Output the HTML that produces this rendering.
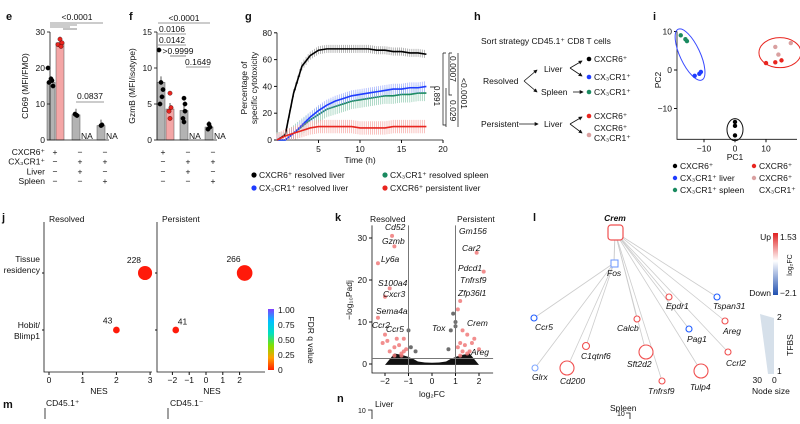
<!DOCTYPE html>
<html><head><meta charset="utf-8"><style>
body{margin:0;background:#fff}
svg{font-family:"Liberation Sans",Arial,sans-serif;font-size:8.5px;fill:#111}
.b{font-weight:bold;font-size:11px}
.i{font-style:italic}
</style></head><body>
<svg id="s" width="800" height="419" viewBox="0 0 800 419" xmlns="http://www.w3.org/2000/svg">
<defs><marker id="ah" viewBox="0 0 6 6" refX="5" refY="3" markerWidth="5" markerHeight="5" orient="auto"><path d="M0 0L6 3L0 6Z" fill="#111"/></marker></defs>
<g>
<text class="b" x="6" y="20">e</text><text class="b" x="129" y="20">f</text><text class="b" x="245" y="20">g</text>
<text class="b" x="474" y="20">h</text><text class="b" x="653" y="20">i</text>
<text class="b" x="2" y="221">j</text><text class="b" x="335" y="221">k</text><text class="b" x="533" y="221">l</text>
<text class="b" x="3" y="408">m</text><text class="b" x="337" y="402">n</text>
</g>
<g id="e"></g>
<g id="f"></g>
<g id="g"></g>
<g id="h">
<text x="481" y="44">Sort strategy CD45.1⁺ CD8 T cells</text>
<text x="483" y="84">Resolved</text><text x="544" y="72">Liver</text><text x="541" y="95">Spleen</text>
<text x="481" y="127">Persistent</text><text x="544" y="127">Liver</text>
<g stroke="#111" fill="none" stroke-width="0.8" marker-end="url(#ah)">
<path d="M524 81 L537 70"/><path d="M524 81 L537 92"/><path d="M570 68 L582 61"/><path d="M570 68 L582 76"/><path d="M573 92 L583 92"/><path d="M519 124 L538 124"/><path d="M570 124 L582 117"/><path d="M570 124 L582 133"/>
</g>
<circle cx="589" cy="59" r="2.3" fill="#000"/><text x="594" y="62">CXCR6⁺</text>
<circle cx="589" cy="77" r="2.3" fill="#1f3cff"/><text x="594" y="80">CX₃CR1⁺</text>
<circle cx="589" cy="92" r="2.3" fill="#1a8a60"/><text x="594" y="95">CX₃CR1⁺</text>
<circle cx="589" cy="116" r="2.3" fill="#e8251f"/><text x="594" y="119">CXCR6⁺</text>
<circle cx="589" cy="135" r="2.3" fill="#d9a0a0"/><text x="594" y="131">CXCR6⁺</text><text x="594" y="141">CX₃CR1⁺</text>
</g>
<g id="i"></g>
<g id="j"></g>
<g id="k"></g>
<g id="l"></g>
<g>
<text x="46" y="406">CD45.1⁺</text><text x="170" y="406">CD45.1⁻</text>
<text x="375" y="407">Liver</text><text x="610" y="411">Spleen</text>
<text x="358" y="413" font-size="7">10</text><text x="617" y="416" font-size="7">10</text>
<path d="M45 408V419M168 408V419M368 410H372V419M626 413H630V419" stroke="#111" fill="none" stroke-width="0.8"/>
</g>
</svg>
<script>
const NS='http://www.w3.org/2000/svg';
function el(p,t,a,txt){const e=document.createElementNS(NS,t);for(const k in a)e.setAttribute(k,a[k]);if(txt!=null)e.textContent=txt;p.appendChild(e);return e;}
// ---- data ----
const eValues=[16,27,7,4];
const eTicks=[0,10,20,30];
const fValues=[8,4.3,4.1,1.8];
const fTicks=[0,5,10,15];
const barColors=['#b3b3b3','#f4a6a6','#b3b3b3','#b3b3b3'];
const gTime=[0,1,2,3,4,5,6,7,8,9,10,11,12,13,14,15,16,17,18];
const gBlack=[0,4,35,55,63,67,68,68,68,68,68,68,67,67,66,66,65,65,64];
const gBlue=[0,0,5,11,17,22,26,29,31,33,34,35,36,37,38,38,39,39,40];
const gGreen=[0,0,5,10,15,19,23,25,27,29,30,31,32,33,33,34,34,35,35];
const gRed=[0,3,5,7,9,10,10,10,10,10,9,9,9,9,10,10,10,10,10];
const gTicksX=[5,10,15,20];const gTicksY=[0,20,40,60,80];
const iPC1=[-17.5,-16,-15.5,-13,-11.5,-11,0,0,0,10,13,15,13,14,18];
const iPC2=[9,8,7.5,-1.5,-1,-0.5,-13.5,-14.5,-17,1.8,2,2.5,6,4,7];
const iGroup=[2,2,2,1,1,1,0,0,0,3,3,3,4,4,4];
const iColors=['#000','#1f3cff','#1a8a60','#e8251f','#d9a0a0'];
const jNES=[2.85,2.0,2.3,-1.8];const jRow=[0,1,0,1];const jPanel=[0,0,1,1];const jSize=[228,43,266,41];
const kFC=[-2.3,-1.7,-1.6,-2.0,-1.8,-2.3,-2.0,-2.1,-1.9,-1.6,-1.5,1.9,2.2,1.2,1.1,1.0,1.3,1.5,1.8,1.4,-1.2,-1.4,-1.3,1.2,1.6,0.9,0.8,-1.1,-1.3,-1.6,-1.8,-1.2,1.1,1.3,1.5,1.7,2.0,1.2,-0.9,-0.7,0.7,-1.0,1.0];
const kP=[24,30.5,28,16,18,11,7,5,5.5,4,6,26.5,22,15,13,10,8,7,6,4.5,3,4.5,2,5,3,12,8,3.5,2.5,2,3,6,4,3,2.5,5,3.5,2,4,3,3.5,8,9];
const kTicksY=[0,10,20,30];const kTicksX=[-2,-1,0,1,2];
// ---- panel e & f ----
function barPanel(gid,ax,y0,scale,vals,ticks,xs,ylab,dots){
 const g=document.getElementById(gid);
 vals.forEach((v,i)=>{const r=el(g,'rect',{x:xs[i]-4,y:y0-v*scale,width:8,height:v*scale,fill:barColors[i],stroke:'#555','stroke-width':0.5});
 
 
 el(g,'line',{x1:xs[i],x2:xs[i],y1:y0-v*scale-6,y2:y0-v*scale,stroke:'#111','stroke-width':0.7});
 dots[i].forEach(d=>el(g,'circle',{cx:xs[i]+d[0],cy:y0-d[1]*scale,r:2.2,fill:i==1?'#e8251f':'#000',stroke:'#000','stroke-width':0.3}));});
 el(g,'line',{x1:ax,x2:ax,y1:y0-ticks[ticks.length-1]*scale,y2:y0,stroke:'#111','stroke-width':0.8});
 ticks.forEach(t=>{el(g,'line',{x1:ax-3,x2:ax,y1:y0-t*scale,y2:y0-t*scale,stroke:'#111','stroke-width':0.8});el(g,'text',{x:ax-5,y:y0-t*scale+3,'text-anchor':'end'},t);});
 el(g,'line',{x1:ax,x2:xs[3]+8,y1:y0,y2:y0,stroke:'#111','stroke-width':0.8});
 el(g,'text',{x:ax-22,y:y0-54,transform:`rotate(-90 ${ax-22} ${y0-54})`,'text-anchor':'middle'},ylab);
 el(g,'text',{x:xs[2]+5,y:y0-1},'NA');el(g,'text',{x:xs[3]+5,y:y0-1},'NA');
}
barPanel('e',50,140,3.6,eValues,eTicks,[51,60,76,101],'CD69 (MFI/FMO)',[[[-3,20],[0,17],[2,15],[-2,16],[1,16.5]],[[0,28],[2,27],[-2,26.5],[1,26]],[[0,7],[1,6.8],[-1,7.2]],[[0,4],[1,4.2]]]);
barPanel('f',157,140,7.2,fValues,fTicks,[161,170,184,209],'GzmB (MFI/isotype)',[[[-2,12.5],[0,8],[1,6],[-1,5],[2,7]],[[0,6.5],[1,4.5],[-1,4],[0,3]],[[0,5.8],[1,5],[-1,3],[0,2.5],[1,4]],[[0,2.2],[1,1.8],[-1,1.5]]]);
(function(){const g=document.getElementById('e');const f=document.getElementById('f');
 [['CXCR6⁺','+','−','−'],['CX₃CR1⁺','−','+','+'],['Liver','−','+','−'],['Spleen','−','−','+']].forEach((r,k)=>{const y=155+k*9.7;
 el(g,'text',{x:45,y:y,'text-anchor':'end'},r[0]);[55,80,105].forEach((x,j)=>el(g,'text',{x:x,y:y,'text-anchor':'middle'},r[j+1]));
 [163,188,213].forEach((x,j)=>el(f,'text',{x:x,y:y,'text-anchor':'middle'},r[j+1]));});
 const lines=[[50,103,23],[50,77,25],[50,70,27],[63,77,29],[76,104,102]];
 lines.forEach(l=>el(g,'line',{x1:l[0],x2:l[1],y1:l[2],y2:l[2],stroke:'#333','stroke-width':0.6}));
 el(g,'text',{x:77,y:20,'text-anchor':'middle'},'<0.0001');el(g,'text',{x:90,y:99,'text-anchor':'middle'},'0.0837');
 [[158,210,23,'<0.0001'],[158,186,34,'0.0106'],[158,186,45,'0.0142'],[170,186,56,'>0.9999'],[186,210,67,'0.1649']].forEach(l=>{el(f,'line',{x1:l[0],x2:l[1],y1:l[2],y2:l[2],stroke:'#333','stroke-width':0.6});el(f,'text',{x:(l[0]+l[1])/2,y:l[2]-2,'text-anchor':'middle'},l[3]);});
})();
// ---- panel g ----
(function(){const g=document.getElementById('g');const X=t=>277+t*8.3,Y=v=>140-v*1.34;
 el(g,'line',{x1:277,x2:277,y1:Y(80),y2:140,stroke:'#111','stroke-width':0.8});el(g,'line',{x1:277,x2:X(20),y1:140,y2:140,stroke:'#111','stroke-width':0.8});
 gTicksY.forEach(t=>{el(g,'line',{x1:274,x2:277,y1:Y(t),y2:Y(t),stroke:'#111'});el(g,'text',{x:272,y:Y(t)+3,'text-anchor':'end'},t);});
 gTicksX.forEach(t=>{el(g,'line',{x1:X(t),x2:X(t),y1:140,y2:143,stroke:'#111'});el(g,'text',{x:X(t),y:152,'text-anchor':'middle'},t);});
 el(g,'text',{x:X(10),y:163,'text-anchor':'middle'},'Time (h)');
 el(g,'text',{x:247,y:88,transform:'rotate(-90 247 88)','text-anchor':'middle'},'Percentage of');el(g,'text',{x:257,y:88,transform:'rotate(-90 257 88)','text-anchor':'middle'},'specific cytotoxicity');
 const ser=[[gBlack,'#000','#888',3],[gGreen,'#1a8a60','#7cc2a4',6],[gBlue,'#1f3cff','#8fa0ff',4],[gRed,'#e8251f','#f59a96',5]];
 ser.forEach(s=>{let pts=[];const ln=el(g,'g',{});
  s[0].forEach((v,i)=>{if(i==0)return;for(let k=0;k<4;k++){const t=gTime[i-1]+(k/4)*(gTime[i]-gTime[i-1]);const vv=s[0][i-1]+(v-s[0][i-1])*k/4;el(ln,'line',{x1:X(t),x2:X(t),y1:Y(vv+s[3]),y2:Y(Math.max(0,vv-s[3])),stroke:s[2],'stroke-width':0.6});}});
  s[0].forEach((v,i)=>pts.push(X(gTime[i])+','+Y(v)));
  const p=el(g,'polyline',{points:pts.join(' '),fill:'none',stroke:s[1],'stroke-width':1.6});
  
  });
 el(g,'path',{d:'M443 53V125H446M446 53H443M449 53V95H452M452 53H449M430 87H436M446 88V127M458 53V127',stroke:'#111',fill:'none','stroke-width':0.7});
 el(g,'text',{x:434,y:86,transform:'rotate(90 434 86)','font-size':8},'0.891');
 el(g,'text',{x:450,y:100,transform:'rotate(90 450 100)'},'0.029');el(g,'text',{x:450,y:56,transform:'rotate(90 450 56)'},'0.0007');
 el(g,'text',{x:461,y:78,transform:'rotate(90 461 78)'},'<0.0001');
 [['CXCR6⁺ resolved liver','#000',254,178],['CX₃CR1⁺ resolved spleen','#1a8a60',385,178],['CX₃CR1⁺ resolved liver','#1f3cff',254,191],['CXCR6⁺ persistent liver','#e8251f',385,191]].forEach(l=>{const c=el(g,'circle',{cx:l[2],cy:l[3]-3,r:2.6,fill:l[1]});
  
  
  el(g,'text',{x:l[2]+5,y:l[3]},l[0]);});
})();
// ---- panel i ----
(function(){const g=document.getElementById('i');const X=v=>735+v*3.1,Y=v=>70-v*3.85;
 el(g,'path',{d:`M677 ${Y(10)}V${Y(-18)}H${X(20)}`,stroke:'#111',fill:'none','stroke-width':0.8});
 [10,0,-10].forEach(t=>{el(g,'line',{x1:674,x2:677,y1:Y(t),y2:Y(t),stroke:'#111'});el(g,'text',{x:672,y:Y(t)+3,'text-anchor':'end'},t<0?'−'+(-t):t);});
 [-10,0,10].forEach(t=>{el(g,'line',{x1:X(t),x2:X(t),y1:Y(-18),y2:Y(-18)+3,stroke:'#111'});el(g,'text',{x:X(t),y:Y(-18)+12,'text-anchor':'middle'},t<0?'−'+(-t):t);});
 el(g,'text',{x:735,y:160,'text-anchor':'middle'},'PC1');el(g,'text',{x:661,y:80,transform:'rotate(-90 661 80)','text-anchor':'middle'},'PC2');
 el(g,'ellipse',{cx:X(-14.5),cy:Y(4),rx:10,ry:28,transform:`rotate(-25 ${X(-14.5)} ${Y(4)})`,fill:'none',stroke:'#3a4bff'});
 el(g,'ellipse',{cx:X(14.5),cy:Y(4.5),rx:21,ry:15,fill:'none',stroke:'#e8251f'});
 el(g,'ellipse',{cx:X(0),cy:Y(-15.5),rx:8,ry:11,fill:'none',stroke:'#111'});
 iPC1.forEach((v,i)=>{const c=el(g,'circle',{cx:X(v),cy:Y(iPC2[i]),r:2.2,fill:iColors[iGroup[i]]});
  
  });
 [['CXCR6⁺',0,675,169],['CX₃CR1⁺ liver',1,675,181],['CX₃CR1⁺ spleen',2,675,193],['CXCR6⁺',3,754,169],['CXCR6⁺',4,754,181]].forEach(l=>{el(g,'circle',{cx:l[2],cy:l[3]-3,r:2.2,fill:iColors[l[1]]});el(g,'text',{x:l[2]+5,y:l[3]},l[0]);});
 el(g,'text',{x:759,y:193},'CX₃CR1⁺');
})();
// ---- panel j ----
(function(){const g=document.getElementById('j');const rows=[273,330];
 const pans=[{ax:44,x0:49,s:33.7,ticks:[0,1,2,3],t:'Resolved'},{ax:157,x0:206,s:16.8,ticks:[-2,-1,0,1,2],t:'Persistent'}];
 pans.forEach((p,k)=>{el(g,'path',{d:`M${p.ax} 222V372H${p.ax+108}`,stroke:'#111',fill:'none','stroke-width':0.8});el(g,'text',{x:p.ax+5,y:222},p.t);
  p.ticks.forEach(t=>{el(g,'line',{x1:p.x0+t*p.s,x2:p.x0+t*p.s,y1:372,y2:375,stroke:'#111'});el(g,'text',{x:p.x0+t*p.s,y:383,'text-anchor':'middle'},t<0?'−'+(-t):t);});
  el(g,'text',{x:p.ax+55,y:394,'text-anchor':'middle'},'NES');rows.forEach(r=>el(g,'line',{x1:p.ax-2,x2:p.ax,y1:r,y2:r,stroke:'#111'}));});
 el(g,'text',{x:40,y:262,'text-anchor':'end'},'Tissue');el(g,'text',{x:40,y:273,'text-anchor':'end'},'residency');
 el(g,'text',{x:40,y:328,'text-anchor':'end'},'Hobit/');el(g,'text',{x:40,y:339,'text-anchor':'end'},'Blimp1');
 jNES.forEach((v,i)=>{const p=pans[jPanel[i]];const x=p.x0+v*p.s,y=rows[jRow[i]],r=2.5+jSize[i]/50;
  const c=el(g,'circle',{cx:x,cy:y,r:r,fill:'#ff1a0a'});
  
  
  if(jPanel[i]&&v<0)el(g,'text',{x:x+2,y:y-r-2},jSize[i]);else el(g,'text',{x:x-4,y:y-r-3,'text-anchor':'end'},jSize[i]);});
 const d=el(g,'defs',{});const lg=el(d,'linearGradient',{id:'fdr',x1:0,y1:1,x2:0,y2:0});
 ['#ff2000','#ffa000','#80e000','#00e0c0','#00c0ff','#8040ff'].forEach((c,i)=>el(lg,'stop',{offset:i/5,'stop-color':c}));
 el(g,'rect',{x:268,y:309,width:6,height:61,fill:'url(#fdr)'});
 ['0','0.25','0.50','0.75','1.00'].forEach((t,i)=>el(g,'text',{x:278,y:373-i*15},t));
 el(g,'text',{x:308,y:340,transform:'rotate(90 308 340)','text-anchor':'middle'},'FDR q value');
})();
// ---- panel k ----
(function(){const g=document.getElementById('k');const X=v=>432+v*23.5,Y=v=>364-v*4.2;
 el(g,'path',{d:`M372 ${Y(33)}V373H${X(2.6)}`,stroke:'#111',fill:'none','stroke-width':0.8});
 kTicksY.forEach(t=>{el(g,'line',{x1:369,x2:372,y1:Y(t),y2:Y(t),stroke:'#111'});el(g,'text',{x:367,y:Y(t)+3,'text-anchor':'end'},t);});
 kTicksX.forEach(t=>{el(g,'line',{x1:X(t),x2:X(t),y1:373,y2:376,stroke:'#111'});el(g,'text',{x:X(t),y:384,'text-anchor':'middle'},t<0?'−'+(-t):t);});
 el(g,'text',{x:432,y:397,'text-anchor':'middle'},'log₂FC');el(g,'text',{x:352,y:300,transform:'rotate(-90 352 300)','text-anchor':'middle'},'−log₁₀Padj');
 el(g,'path',{d:`M${X(-2)} ${Y(-0.2)} L${X(-1.6)} ${Y(2.5)} Q${X(-1)} ${Y(2)} ${X(-0.6)} ${Y(0.6)} Q${X(0)} ${Y(0)} ${X(0.6)} ${Y(0.6)} Q${X(1)} ${Y(2)} ${X(1.6)} ${Y(2.5)} L${X(2)} ${Y(-0.2)} Z`,fill:'#111'});
 kFC.forEach((v,i)=>{const c=el(g,'circle',{cx:X(v),cy:Y(kP[i]),r:2,fill:Math.abs(v)>1?'#f07a7a':'#555',opacity:0.85});
  
  });
 el(g,'line',{x1:X(-1),x2:X(-1),y1:Y(33),y2:373,stroke:'#777'});el(g,'line',{x1:X(1),x2:X(1),y1:Y(33),y2:373,stroke:'#777'});
 el(g,'line',{x1:372,x2:X(2.6),y1:Y(1.3),y2:Y(1.3),stroke:'#777'});
 el(g,'text',{x:370,y:222},'Resolved');el(g,'text',{x:457,y:222},'Persistent');
 [['Cd52',385,230],['Gzmb',382,244],['Ly6a',381,262],['S100a4',378,286],['Cxcr3',383,297],['Sema4a',376,314],['Ccr2',372,328],['Ccr5',386,332],['Gm156',459,234],['Car2',462,251],['Pdcd1',458,271],['Tnfrsf9',460,283],['Zfp36l1',458,296],['Tox',432,331],['Crem',467,326],['Areg',471,355]].forEach(t=>el(g,'text',{x:t[1],y:t[2],class:'i'},t[0]));
})();
// ---- panel l ----
(function(){const g=document.getElementById('l');
 const nodes=[['Ccr5',534,318,3,'#1f5cff',535,330],['Glrx',535,368,3,'#7fa6ff',532,380],['Cd200',567,368,7,'#f05050',560,384],['C1qtnf6',586,346,3.5,'#f05050',581,359],['Calcb',637,319,3,'#f05050',617,331],['Sft2d2',646,352,7,'#f05050',627,367],['Tnfrsf9',662,381,3,'#f05050',648,394],['Epdr1',669,297,3,'#f05050',666,309],['Pag1',689,329,3,'#1f5cff',687,342],['Tulp4',701,371,7,'#f05050',690,390],['Tspan31',717,297,3,'#1f5cff',713,309],['Areg',725,321,3,'#f05050',723,334],['Ccrl2',728,352,3,'#f05050',726,366]];
 const crem=[615,232],fos=[614,263];
 el(g,'line',{x1:crem[0],x2:fos[0],y1:crem[1],y2:fos[1],stroke:'#ccc'});
 nodes.forEach((n,i)=>{const src=i<4?fos:crem;el(g,'line',{x1:src[0],x2:n[1],y1:src[1],y2:n[2],stroke:'#ccc','stroke-width':0.8});});
 el(g,'rect',{x:608,y:225,width:15,height:15,rx:3,fill:'#fff',stroke:'#f05050','stroke-width':1.2});
 el(g,'text',{x:615,y:221,'text-anchor':'middle','font-weight':'bold',class:'i'},'Crem');
 el(g,'rect',{x:611,y:260,width:7,height:7,fill:'#fff',stroke:'#6a94ff','stroke-width':1});el(g,'text',{x:607,y:276,class:'i'},'Fos');
 nodes.forEach(n=>{const c=el(g,'circle',{cx:n[1],cy:n[2],r:n[3],fill:'#fff',stroke:n[4],'stroke-width':1.1});
  
  
  el(g,'text',{x:n[5],y:n[6],class:'i'},n[0]);});
 const d=el(g,'defs',{});const lg=el(d,'linearGradient',{id:'fc',x1:0,y1:1,x2:0,y2:0});
 [['#2050b0',0],['#fff',0.55],['#e02020',1]].forEach(s=>el(lg,'stop',{offset:s[1],'stop-color':s[0]}));
 el(g,'rect',{x:773,y:233,width:5,height:62,fill:'url(#fc)'});
 el(g,'text',{x:771,y:240,'text-anchor':'end'},'Up');el(g,'text',{x:780,y:240},'1.53');
 el(g,'text',{x:771,y:296,'text-anchor':'end'},'Down');el(g,'text',{x:780,y:296},'−2.1');
 el(g,'text',{x:792,y:265,transform:'rotate(-90 792 265)','text-anchor':'middle','font-size':7},'log₂FC');
 el(g,'polygon',{points:'760,314 774,318 774,374 768,374',fill:'#d6e0ea'});
 el(g,'text',{x:777,y:320},'2');el(g,'text',{x:777,y:374},'1');el(g,'text',{x:793,y:345,transform:'rotate(-90 793 345)','text-anchor':'middle'},'TFBS');
 el(g,'text',{x:762,y:383,'text-anchor':'end'},'30');el(g,'text',{x:772,y:383},'0');el(g,'text',{x:752,y:394},'Node size');
})();
</script>
</body></html>
